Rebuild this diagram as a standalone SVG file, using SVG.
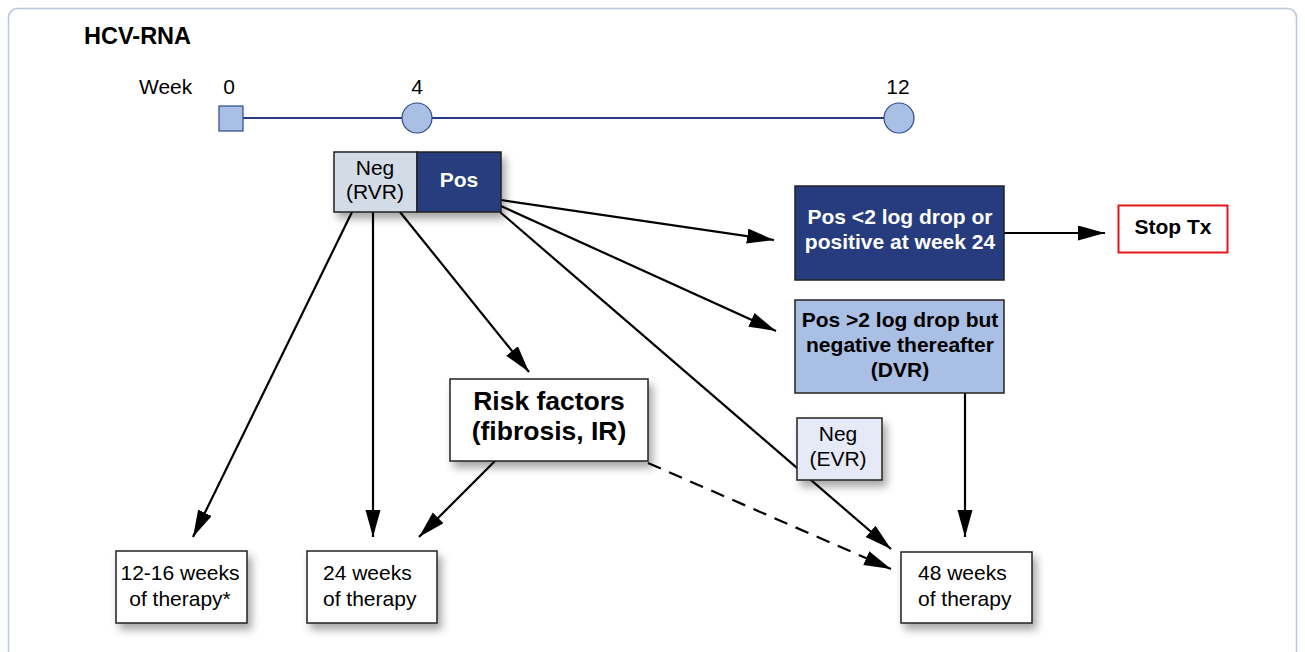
<svg xmlns="http://www.w3.org/2000/svg" width="1305" height="652" viewBox="0 0 1305 652">
<style>
.t{font-family:"Liberation Sans",Arial,sans-serif;font-size:21px;fill:#000}
.b{font-weight:bold}
.w{fill:#fff}
.c{text-anchor:middle}
.ln{stroke:#000;stroke-width:2.2;fill:none}
.box{stroke:#222;stroke-width:1.5}
</style>
<defs>
<marker id="ah" markerUnits="userSpaceOnUse" markerWidth="28" markerHeight="16" refX="27" refY="7.5" orient="auto">
<path d="M0,0 L27,7.5 L0,15 z" fill="#000"/>
</marker>
<filter id="sh" x="-20%" y="-20%" width="150%" height="160%">
<feDropShadow dx="4" dy="6" stdDeviation="4.5" flood-color="#000" flood-opacity="0.35"/>
</filter>
</defs>
<rect x="8.5" y="8.5" width="1288" height="680" rx="9" fill="#fff" stroke="#b9c8dc" stroke-width="1.5"/>
<g id="title"><text class="t b" x="84" y="44" style="font-size:23.5px">HCV-RNA</text></g>
<g id="timeline">
<text class="t" x="139" y="94">Week</text>
<text class="t c" x="229" y="94">0</text>
<text class="t c" x="417" y="94">4</text>
<text class="t c" x="898" y="94">12</text>
<line x1="243" y1="118" x2="885" y2="118" stroke="#263c7e" stroke-width="2"/>
<rect x="219" y="106" width="24" height="25" fill="#aabfe4" stroke="#2d4a8c" stroke-width="1.2"/>
<circle cx="417" cy="118" r="15" fill="#aabfe4" stroke="#2d4a8c" stroke-width="1.2"/>
<circle cx="899" cy="118" r="15" fill="#aabfe4" stroke="#2d4a8c" stroke-width="1.2"/>
</g>
<g id="connectors">
<line class="ln" x1="352" y1="212" x2="193" y2="537" marker-end="url(#ah)"/>
<line class="ln" x1="373" y1="212" x2="373" y2="537" marker-end="url(#ah)"/>
<line class="ln" x1="400" y1="212" x2="529" y2="372" marker-end="url(#ah)"/>
<line class="ln" x1="501" y1="200" x2="774" y2="240" marker-end="url(#ah)"/>
<line class="ln" x1="501" y1="206" x2="776" y2="331" marker-end="url(#ah)"/>
<line class="ln" x1="500" y1="212" x2="891" y2="549" marker-end="url(#ah)"/>
<line class="ln" x1="495" y1="461" x2="419" y2="537" marker-end="url(#ah)"/>
<line class="ln" x1="648" y1="463" x2="891" y2="569" stroke-dasharray="14,9" marker-end="url(#ah)"/>
<line class="ln" x1="965" y1="393" x2="965" y2="537" marker-end="url(#ah)"/>
<line class="ln" x1="1004" y1="233" x2="1105" y2="233" marker-end="url(#ah)"/>
</g>
<g id="node-neg-pos" filter="url(#sh)">
<rect class="box" x="334" y="152" width="83" height="60" fill="#d3dbe6"/>
<rect class="box" x="417" y="152" width="84" height="60" fill="#263c7e"/>
</g>
<g id="node-neg-rvr-text">
<text class="t c" x="375" y="175">Neg</text>
<text class="t c" x="375" y="199">(RVR)</text>
<text class="t b w c" x="459" y="187">Pos</text>
</g>
<g id="node-pos-lt2">
<rect class="box" x="795" y="186" width="209" height="94" fill="#263c7e"/>
<text class="t b w c" x="900" y="224">Pos &lt;2 log drop or</text>
<text class="t b w c" x="900" y="249">positive at week 24</text>
</g>
<g id="node-stop">
<rect x="1118.5" y="205.5" width="109" height="47" fill="#fff" stroke="#e8151b" stroke-width="2"/>
<text class="t b c" x="1173" y="234">Stop Tx</text>
</g>
<g id="node-pos-gt2">
<rect class="box" x="795" y="300" width="209" height="93" fill="#aabfe4"/>
<text class="t b c" x="900" y="327">Pos &gt;2 log drop but</text>
<text class="t b c" x="900" y="352">negative thereafter</text>
<text class="t b c" x="900" y="377">(DVR)</text>
</g>
<g id="node-risk">
<rect class="box" x="450" y="379" width="198" height="82" fill="#fff" filter="url(#sh)"/>
<text class="t b c" x="549" y="410" style="font-size:26.5px">Risk factors</text>
<text class="t b c" x="549" y="440" style="font-size:26.5px">(fibrosis, IR)</text>
</g>
<g id="node-neg-evr">
<rect class="box" x="797" y="418" width="85" height="62" fill="#e6eaf7" filter="url(#sh)"/>
<text class="t c" x="838" y="441">Neg</text>
<text class="t c" x="838" y="466">(EVR)</text>
</g>
<g id="node-12-16">
<rect class="box" x="116" y="551" width="131" height="72" fill="#fff" filter="url(#sh)"/>
<text class="t c" x="180" y="580">12-16 weeks</text>
<text class="t c" x="180" y="606">of therapy*</text>
</g>
<g id="node-24">
<rect class="box" x="307" y="551" width="130" height="72" fill="#fff" filter="url(#sh)"/>
<text class="t" x="323" y="580">24 weeks</text>
<text class="t" x="323" y="606">of therapy</text>
</g>
<g id="node-48">
<rect class="box" x="901" y="552" width="131" height="71" fill="#fff" filter="url(#sh)"/>
<text class="t" x="918" y="580">48 weeks</text>
<text class="t" x="918" y="606">of therapy</text>
</g>
</svg>
